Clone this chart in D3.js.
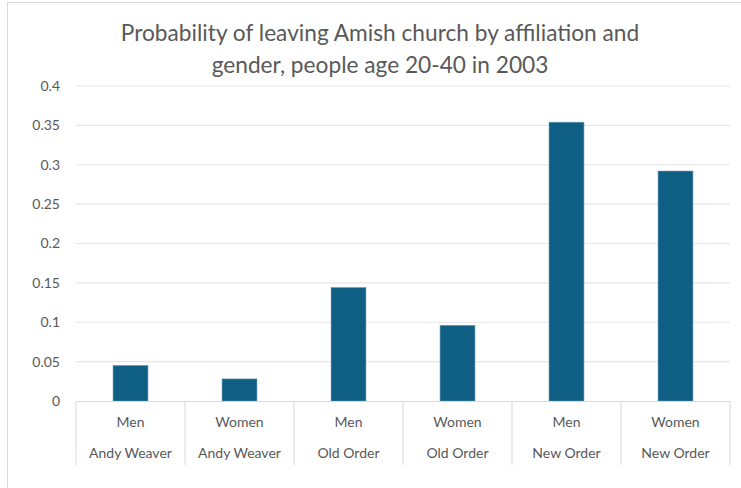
<!DOCTYPE html>
<html>
<head>
<meta charset="utf-8">
<script src="https://cdn.jsdelivr.net/npm/d3@7"></script>
<style>
  body { margin: 0; background: #fff; }
  text { font-family: Lato, "Open Sans", sans-serif; fill: #595959; }
</style>
</head>
<body>
<svg id="chart"></svg>
<script>
// data
const genders = ['Men', 'Women', 'Men', 'Women', 'Men', 'Women'];
const affiliations = ['Andy Weaver', 'Andy Weaver', 'Old Order', 'Old Order', 'New Order', 'New Order'];
const values = [0.045, 0.028, 0.144, 0.096, 0.354, 0.292];
const yTicks = [0, 0.05, 0.1, 0.15, 0.2, 0.25, 0.3, 0.35, 0.4];

const W = 741, H = 488;
const margin = { top: 86, right: 11, bottom: 87, left: 76 };
const width = W - margin.left - margin.right;
const height = H - margin.top - margin.bottom;

const root = d3.select('#chart')
  .attr('width', W)
  .attr('height', H);

// outer chart border
root.append('rect')
  .attr('x', 7.5).attr('y', 2.5)
  .attr('width', W).attr('height', H)
  .attr('fill', 'none')
  .attr('stroke', '#d9d9d9');

// title
const title = root.append('text')
  .attr('text-anchor', 'middle')
  .style('font-size', '22.7px');
title.append('tspan').attr('x', 380).attr('y', 41)
  .text('Probability of leaving Amish church by affiliation and');
title.append('tspan').attr('x', 380).attr('y', 73)
  .text('gender, people age 20-40 in 2003');

const svg = root.append('g')
  .attr('transform', `translate(${margin.left}, ${margin.top})`);

const idx = d3.range(values.length);
const xScale = d3.scaleBand()
  .domain(idx)
  .range([0, width])
  .paddingInner(0.68)
  .paddingOuter(0.34);

const yScale = d3.scaleLinear()
  .domain([0, 0.4])
  .range([height, 0]);

// gridlines
svg.append('g')
  .selectAll('line')
  .data(yTicks.slice(1))
  .enter()
  .append('line')
  .attr('x1', 0).attr('x2', width)
  .attr('y1', d => yScale(d)).attr('y2', d => yScale(d))
  .attr('stroke', '#e6e6e6')
  .attr('stroke-width', 1.2);

// y axis labels
const yAxis = d3.axisLeft(yScale).tickValues(yTicks).tickSize(0).tickPadding(16)
  .tickFormat(d => d3.format('')(+d.toFixed(2)));
const gy = svg.append('g').call(yAxis);
gy.select('.domain').remove();
gy.selectAll('text').style('font-size', '14px').style('font-family', 'Lato, sans-serif').attr('fill', '#595959');

// bars
svg.selectAll('rect.bar')
  .data(idx)
  .enter()
  .append('rect')
  .attr('class', 'bar')
  .attr('x', i => xScale(i))
  .attr('width', xScale.bandwidth())
  .attr('y', i => yScale(values[i]))
  .attr('height', i => height - yScale(values[i]))
  .attr('fill', '#0e5f83')
  .attr('stroke', '#5f93ad')
  .attr('stroke-width', 0.6);

// category axis
const step = width / values.length;
const gx = svg.append('g').attr('transform', `translate(0, ${height})`);
gx.append('line')
  .attr('x1', 0).attr('x2', width)
  .attr('y1', 0.5).attr('y2', 0.5)
  .attr('stroke', '#d9d9d9');
gx.selectAll('line.sep')
  .data(d3.range(values.length + 1))
  .enter()
  .append('line')
  .attr('class', 'sep')
  .attr('x1', i => i * step).attr('x2', i => i * step)
  .attr('y1', 0).attr('y2', 64)
  .attr('stroke', '#d9d9d9');
gx.selectAll('text.g')
  .data(idx)
  .enter()
  .append('text')
  .attr('class', 'g')
  .attr('x', i => xScale(i) + xScale.bandwidth() / 2)
  .attr('y', 26)
  .attr('text-anchor', 'middle')
  .style('font-size', '14px')
  .text(i => genders[i]);
gx.selectAll('text.a')
  .data(idx)
  .enter()
  .append('text')
  .attr('class', 'a')
  .attr('x', i => xScale(i) + xScale.bandwidth() / 2)
  .attr('y', 57)
  .attr('text-anchor', 'middle')
  .style('font-size', '14px')
  .text(i => affiliations[i]);
</script>
</body>
</html>
